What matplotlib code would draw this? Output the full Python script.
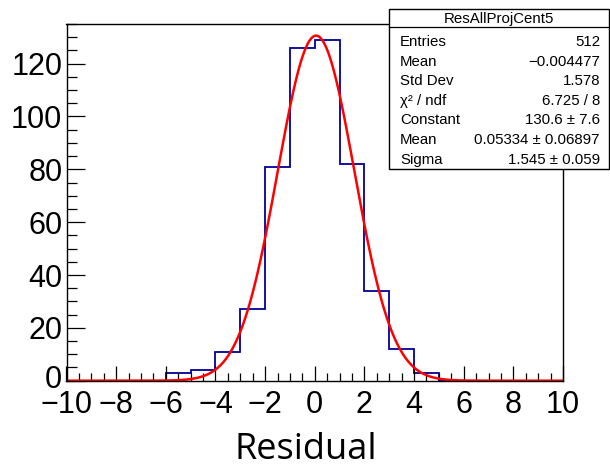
import numpy as np
import matplotlib.pyplot as plt
import matplotlib.transforms as mtransforms
from matplotlib.patches import Rectangle
from matplotlib.lines import Line2D

# histogram: 20 bins of width 1 from -10 to 10
bin_edges = np.arange(-10, 11, 1)
counts = [0, 0, 0, 0, 3, 4, 11, 27, 81, 126, 129, 82, 34, 12, 3, 0, 0, 0, 0, 0]

# gaussian fit parameters (from stats box)
fit_const = 130.6
fit_mean = 0.05334
fit_sigma = 1.545

stat_title = "ResAllProjCent5"
stat_names = ["Entries", "Mean", "Std Dev", "χ² / ndf", "Constant", "Mean", "Sigma"]
stat_values = ["512", "\u22120.004477", "1.578", "6.725 / 8", "130.6 \u00b1 7.6",
               "0.05334 \u00b1 0.06897", "1.545 \u00b1 0.059"]

W, H = 610, 469
fig = plt.figure(figsize=(W / 100, H / 100), dpi=100)
plt.rcParams['font.family'] = ['Liberation Sans', 'DejaVu Sans']
plt.rcParams['axes.unicode_minus'] = True


def px(x, y):
    # pixel (from top-left) -> figure fraction
    return x / W, 1 - y / H


left, right, top, bottom = 66.5, 563, 24, 380.7
ax = fig.add_axes([left / W, (H - bottom) / H, (right - left) / W, (bottom - top) / H])

ax.stairs(counts, bin_edges, color='#000099', lw=1.3)
xs = np.linspace(-10, 10, 600)
ax.plot(xs, fit_const * np.exp(-0.5 * ((xs - fit_mean) / fit_sigma) ** 2), color='red', lw=1.8)

ax.set_xlim(-10, 10)
ax.set_ylim(0, 135)
ax.set_xticks(np.arange(-10, 11, 2))
ax.set_xticks(np.arange(-10, 10.01, 0.5), minor=True)
ax.set_yticks(np.arange(0, 121, 20))
ax.set_yticks(np.arange(0, 136, 5), minor=True)
ax.tick_params(axis='both', which='both', direction='in', top=False, right=False, labelsize=22, width=0.9)
ax.tick_params(axis='x', which='major', length=11, pad=7)
ax.tick_params(axis='x', which='minor', length=6)
ax.tick_params(axis='y', which='major', length=13, pad=3)
ax.tick_params(axis='y', which='minor', length=7)
for s in ax.spines.values():
    s.set_linewidth(1.0)

# nudge the y "0" label up a little so it sits above "-10"
zero_lbl = ax.get_yticklabels()[0]
zero_lbl.set_transform(zero_lbl.get_transform() + mtransforms.ScaledTranslation(0, 4 / 100, fig.dpi_scale_trans))

fx, fy = px(306, 459)
fig.text(fx, fy, "Residual", family=['Open Sans', 'DejaVu Sans'], fontsize=26, ha='center', va='baseline')

# stats box
bx0, by0, bx1, by1 = 389, 9, 609, 169
x0, y0 = px(bx0, by1)
fig.add_artist(Rectangle((x0, y0), (bx1 - bx0) / W, (by1 - by0) / H, transform=fig.transFigure,
                         facecolor='white', edgecolor='black', lw=1.0, zorder=5))
sx0, sy = px(bx0, 27)
sx1, _ = px(bx1, 27)
fig.add_artist(Line2D([sx0, sx1], [sy, sy], transform=fig.transFigure, color='black', lw=0.9, zorder=6))
tx, ty = px(499, 23)
fig.text(tx, ty, stat_title, fontsize=10.8, ha='center', va='baseline', zorder=7)
for i, (name, val) in enumerate(zip(stat_names, stat_values)):
    yb = 46 + 19.6 * i
    lx, ly = px(400, yb)
    fig.text(lx, ly, name, fontsize=10.8, ha='left', va='baseline', zorder=7)
    rx, _ = px(600, yb)
    fig.text(rx, ly, val, fontsize=10.8, ha='right', va='baseline', zorder=7)

fig.savefig("out.png", dpi=100)
